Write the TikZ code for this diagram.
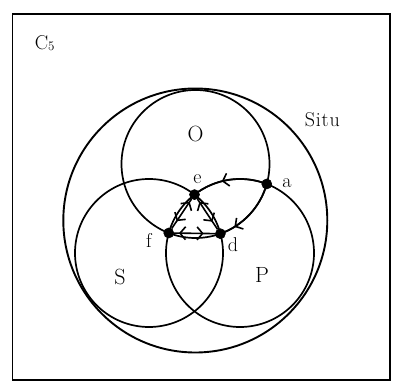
\documentclass[tikz,border=0pt]{standalone}
\usetikzlibrary{arrows.meta,decorations.markings}
\begin{document}
\begin{tikzpicture}[x=1pt,y=1pt,line width=1.7pt,
  >={Straight Barb[length=5.5pt,width=13pt,line width=1.6pt]},
  lbl/.style={font=\fontsize{20}{22}\selectfont,inner sep=0pt},
  big/.style={font=\fontsize{22}{24}\selectfont,inner sep=0pt},
  ring/.style={line width=1.7pt},
  dot/.style={circle,fill=black,draw=black,line width=0.6pt,inner sep=0pt,minimum size=10pt},
  toend/.style={postaction={decorate,decoration={markings,mark=at position #1 with {\arrow{>}}}}},
  tostart/.style={postaction={decorate,decoration={markings,mark=at position #1 with {\arrow{<}}}}},
  tri/.style={line width=1.6pt}
]
\useasboundingbox (0,0) rectangle (394,385);
% frame
\draw[line width=1.8pt] (12.5,5) rectangle (390,371);
% circles
\coordinate (cB) at (195.3,164.5);
\coordinate (cO) at (195.5,221);
\coordinate (cS) at (149,132);
\coordinate (cP) at (240,132);
\draw[ring,line width=1.9pt] (cB) circle[radius=132];
\draw[ring] (cO) circle[radius=74];
\draw[ring] (cS) circle[radius=74];
\draw[ring] (cP) circle[radius=74];
% points
\node[dot] (e) at (194.5,190.4) {};
\node[dot] (a) at (266.75,201) {};
\node[dot] (f) at (168.75,152) {};
\node[dot] (d) at (220.4,151.3) {};
% arcs with arrows
\draw[toend=0.6] (a.center) arc[start angle=68.8,end angle=127.9,radius=74];
\draw[toend=0.78] (a.center) arc[start angle=-15.7,end angle=-70.3,radius=74];
% triangle
\draw[tri,tostart=0.3,toend=0.75] (e) -- (f);
\draw[tri,tostart=0.3,toend=0.75] (e) -- (d);
\draw[tri,tostart=0.3,toend=0.72] (f) -- (d);
% labels
\node[lbl,anchor=base west] (c5) at (34,335) {C\raisebox{-0.6pt}{\fontsize{13}{13}\selectfont 5}};
\node[lbl,anchor=base west] (situ) at (304,258) {S\kern0.8pt i\kern0.8pt t\kern0.8pt u};
\node[big,anchor=base] (lO) at (195.5,243) {O};
\node[lbl,anchor=base] (le) at (197.5,201) {e};
\node[lbl,anchor=base] (la) at (287,197) {a};
\node[lbl,anchor=base] (lf) at (149,137) {f};
\node[lbl,anchor=base] (ld) at (233,133) {d};
\node[big,anchor=base] (lS) at (120,100) {S};
\node[big,anchor=base] (lP) at (262,102) {P};
\end{tikzpicture}
\end{document}
